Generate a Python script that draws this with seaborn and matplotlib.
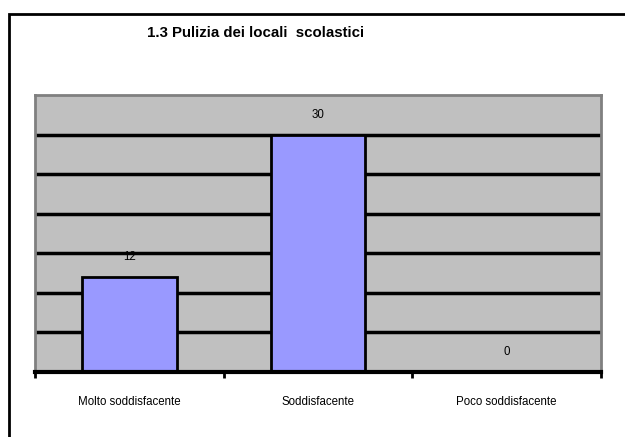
import matplotlib
matplotlib.use("Agg")
import matplotlib.pyplot as plt
import seaborn as sns
import pandas as pd
from matplotlib.patches import Rectangle

# data
categorie = ["Molto soddisfacente", "Soddisfacente", "Poco soddisfacente"]
valori = [12, 30, 0]
titolo = "1.3 Pulizia dei locali  scolastici"

sns.set_style("white")
plt.rcParams['font.family'] = ['Liberation Sans', 'DejaVu Sans']
plt.rcParams['text.color'] = 'black'
plt.rcParams['xtick.color'] = 'black'

df = pd.DataFrame({"categoria": categorie, "valore": valori})

fig = plt.figure(figsize=(6.25, 4.37), dpi=100)
ax = fig.add_axes([35 / 625, 1 - 372 / 437, 566 / 625, 277 / 437])
ax.set_facecolor("#C0C0C0")

sns.barplot(data=df, x="categoria", y="valore", color="#9999FF", saturation=1,
            edgecolor="black", linewidth=2, width=0.5, ax=ax)

ax.set_ylim(0, 35)
ax.set_xlim(-0.5, 2.5)
ax.set_yticks([5, 10, 15, 20, 25, 30])
ax.set_yticklabels([])
ax.tick_params(axis="y", length=0)
ax.yaxis.grid(True, color="black", linewidth=2.5)
ax.set_axisbelow(True)

# ticks on category boundaries, labels centred as minor ticks
ax.set_xticks([-0.5, 0.5, 1.5, 2.5])
ax.set_xticklabels([])
ax.tick_params(axis="x", which="major", bottom=True, direction="out", length=4, width=2, color="black")
ax.set_xticks([0, 1, 2], minor=True)
ax.set_xticklabels(categorie, minor=True, fontsize=8.3, color="black")
ax.tick_params(axis="x", which="minor", bottom=True, length=0, pad=17)
ax.set_xlabel("")
ax.set_ylabel("")

for s in ["left", "top", "right"]:
    ax.spines[s].set_color("#808080")
    ax.spines[s].set_linewidth(2)
ax.spines["bottom"].set_color("black")
ax.spines["bottom"].set_linewidth(3)

ax.bar_label(ax.containers[0], labels=[str(v) for v in valori], padding=10,
             fontsize=8.3, color="black")

fig.text(256 / 625, 1 - 33 / 437, titolo, ha="center", va="center",
         fontsize=10.8, fontweight="bold", color="black")

# outer frame of the chart object
fig.patches.append(Rectangle((9 / 625, -0.1), 1.2, 1 - 14 / 437 + 0.1, transform=fig.transFigure,
                             fill=False, edgecolor="black", linewidth=2, figure=fig))

fig.savefig("out.png", dpi=100)
